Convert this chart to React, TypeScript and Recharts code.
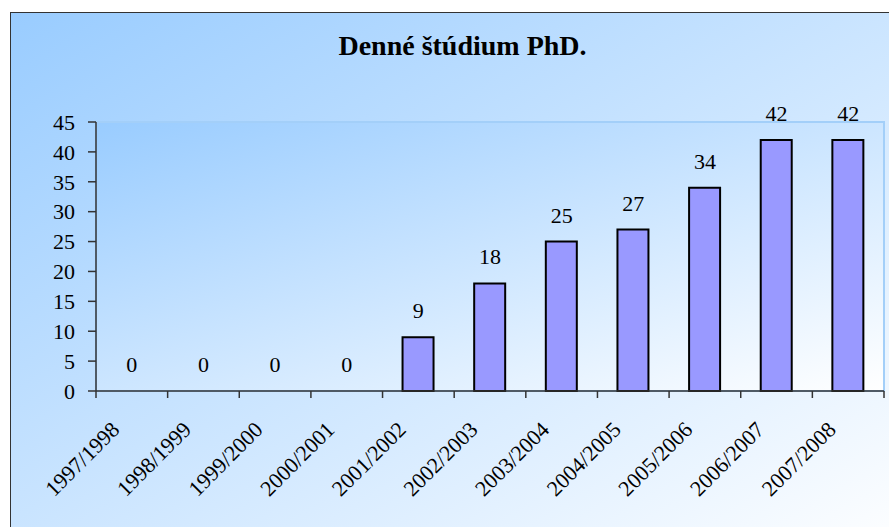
import { ComposedChart, Bar, Line, XAxis, YAxis, LabelList, ReferenceArea } from "recharts";

const roky = [
  "1997/1998",
  "1998/1999",
  "1999/2000",
  "2000/2001",
  "2001/2002",
  "2002/2003",
  "2003/2004",
  "2004/2005",
  "2005/2006",
  "2006/2007",
  "2007/2008",
];
const pocetStudentov = [0, 0, 0, 0, 9, 18, 25, 27, 34, 42, 42];
const yTicks = [0, 5, 10, 15, 20, 25, 30, 35, 40, 45];

const data = roky.map((rok, i) => ({ rok, pocet: pocetStudentov[i] }));

const SERIF = "'Liberation Serif', 'Times New Roman', serif";
const CHART_W = 889;
const CHART_H = 527;
const MARGIN = { top: 122, right: 5, bottom: 36, left: 10 };
const Y_AXIS_W = 86;
// sirka jednej kategorie v osi X (ciarky su medzi kategoriami, ako v Exceli)
const band = (CHART_W - MARGIN.left - MARGIN.right - Y_AXIS_W) / roky.length;

const RokTick = (props: any) => {
  const { x, y, payload, index } = props;
  return (
    <g>
      <line x1={x - band / 2} y1={y} x2={x - band / 2} y2={y + 7} stroke="#333" strokeWidth={1.5} />
      {index === roky.length - 1 && (
        <line x1={x + band / 2} y1={y} x2={x + band / 2} y2={y + 7} stroke="#333" strokeWidth={1.5} />
      )}
      <text
        transform={`translate(${x - 11},${y + 40}) rotate(-45)`}
        textAnchor="end"
        fontSize={22}
        fontFamily={SERIF}
        fill="#000"
      >
        {payload.value}
      </text>
    </g>
  );
};

export default function App() {
  return (
    <div
      style={{
        position: "absolute",
        left: 0,
        top: 0,
        width: CHART_W,
        height: CHART_H,
        overflow: "hidden",
        background: "#fff",
      }}
    >
      <div
        style={{
          position: "absolute",
          left: 10,
          top: 12,
          width: 900,
          height: 540,
          border: "1px solid #333",
          background: "linear-gradient(to bottom right, #99ccff 0%, #ffffff 100%)",
        }}
      />
      <div
        style={{
          position: "absolute",
          left: 0,
          top: 31.5,
          width: 925,
          textAlign: "center",
          fontFamily: SERIF,
          fontWeight: "bold",
          fontSize: 28,
          lineHeight: "28px",
          color: "#000",
        }}
      >
        Denné štúdium PhD.
      </div>
      <div style={{ position: "absolute", left: 0, top: 0 }}>
        <ComposedChart width={CHART_W} height={CHART_H} data={data} margin={MARGIN} barSize={31}>
          <defs>
            <linearGradient id="plotGrad" x1="0" y1="0" x2="1" y2="1">
              <stop offset="0%" stopColor="#99ccff" />
              <stop offset="100%" stopColor="#ffffff" />
            </linearGradient>
          </defs>
          <ReferenceArea
            y1={0}
            y2={45}
            fill="url(#plotGrad)"
            fillOpacity={1}
            stroke="#a3cff9"
            strokeWidth={2}
          />
          <XAxis
            dataKey="rok"
            interval={0}
            height={100}
            tickLine={false}
            tickSize={0}
            tickMargin={0}
            axisLine={{ stroke: "#333", strokeWidth: 1.5 }}
            tick={<RokTick />}
          />
          <YAxis
            width={Y_AXIS_W}
            domain={[0, 45]}
            ticks={yTicks}
            interval={0}
            tickSize={8}
            tickMargin={13}
            axisLine={{ stroke: "#333", strokeWidth: 1.5 }}
            tickLine={{ stroke: "#333", strokeWidth: 1.5 }}
            tick={{ fontSize: 22, fontFamily: SERIF, fill: "#000" }}
          />
          <Bar
            dataKey="pocet"
            fill="#9999ff"
            stroke="#000"
            strokeWidth={2}
            isAnimationActive={false}
          />
          {/* neviditelna ciara len kvoli popiskom (aj pre nulove hodnoty) */}
          <Line
            dataKey="pocet"
            stroke="none"
            dot={false}
            activeDot={false}
            legendType="none"
            isAnimationActive={false}
          >
            <LabelList
              dataKey="pocet"
              position="top"
              offset={19}
              fontSize={22}
              fontFamily={SERIF}
              fill="#000"
            />
          </Line>
        </ComposedChart>
      </div>
    </div>
  );
}
